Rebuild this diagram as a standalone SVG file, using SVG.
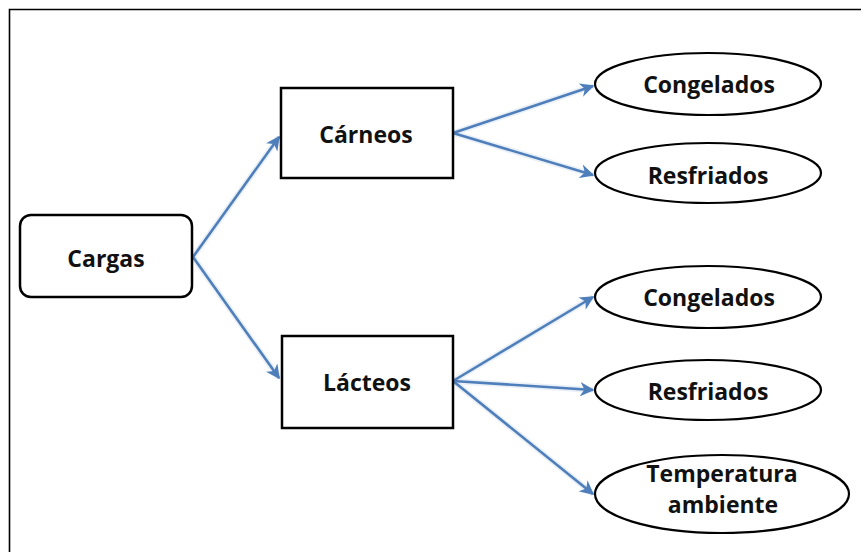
<svg xmlns="http://www.w3.org/2000/svg" width="861" height="552" viewBox="0 0 861 552">
  <defs>
    <marker id="arrow" viewBox="0 0 10 10" refX="9" refY="5" markerWidth="5.5" markerHeight="5.5" markerUnits="strokeWidth" orient="auto">
      <path d="M0,0 L10,5 L0,10 L3,5 z" fill="#4F7FBB"/>
    </marker>
  </defs>
  <style>
    .frame { stroke: #000; stroke-width: 1.6; fill: none; }
    .box { fill: #fff; stroke: #000; stroke-width: 2.5; }
    .oval { fill: #fff; stroke: #000; stroke-width: 2.2; }
    .label { font-family: "Open Sans", "Liberation Sans", sans-serif; font-weight: bold; font-size: 23px; fill: #111; text-anchor: middle; }
    .halo { stroke: #DCE6F2; stroke-width: 6; fill: none; opacity: 0.6; }
    .edge { stroke: #4F7FBB; stroke-width: 2.6; fill: none; marker-end: url(#arrow); }
  </style>

  <rect width="861" height="552" fill="#fff"/>
  <!-- page border (top and left edges only) -->
  <path class="frame" d="M9.5,552 V9.5 H861"/>

  <g id="connectors">
    <g class="halos">
      <path class="halo" d="M193,257 L279,137"/>
      <path class="halo" d="M193,257 L279,378"/>
      <path class="halo" d="M453,133 L593,86"/>
      <path class="halo" d="M453,133 L593,175"/>
      <path class="halo" d="M453,381 L593,297"/>
      <path class="halo" d="M453,381 L593,390"/>
      <path class="halo" d="M453,381 L593,494"/>
    </g>
    <path class="edge" d="M193,257 L279,137"/>
    <path class="edge" d="M193,257 L279,378"/>
    <path class="edge" d="M453,133 L593,86"/>
    <path class="edge" d="M453,133 L593,175"/>
    <path class="edge" d="M453,381 L593,297"/>
    <path class="edge" d="M453,381 L593,390"/>
    <path class="edge" d="M453,381 L593,494"/>
  </g>

  <g id="cargas">
    <rect class="box" x="20" y="215" width="172" height="82" rx="11"/>
    <text class="label" x="106" y="267">Cargas</text>
  </g>

  <g id="carneos">
    <rect class="box" x="281" y="88" width="172" height="90"/>
    <text class="label" x="366" y="143">Cárneos</text>
  </g>

  <g id="lacteos">
    <rect class="box" x="282" y="336" width="171" height="92"/>
    <text class="label" x="367" y="391">Lácteos</text>
  </g>

  <g id="carneos-congelados">
    <ellipse class="oval" cx="708" cy="84" rx="113" ry="31"/>
    <text class="label" x="709" y="93">Congelados</text>
  </g>

  <g id="carneos-resfriados">
    <ellipse class="oval" cx="708" cy="173" rx="113" ry="30"/>
    <text class="label" x="708" y="184">Resfriados</text>
  </g>

  <g id="lacteos-congelados">
    <ellipse class="oval" cx="708" cy="297" rx="113" ry="31"/>
    <text class="label" x="709" y="306">Congelados</text>
  </g>

  <g id="lacteos-resfriados">
    <ellipse class="oval" cx="708" cy="390" rx="113" ry="30"/>
    <text class="label" x="708" y="400">Resfriados</text>
  </g>

  <g id="lacteos-temperatura">
    <ellipse class="oval" cx="722" cy="494" rx="127" ry="39"/>
    <text class="label" x="722" y="482">Temperatura</text>
    <text class="label" x="723" y="513">ambiente</text>
  </g>
</svg>
